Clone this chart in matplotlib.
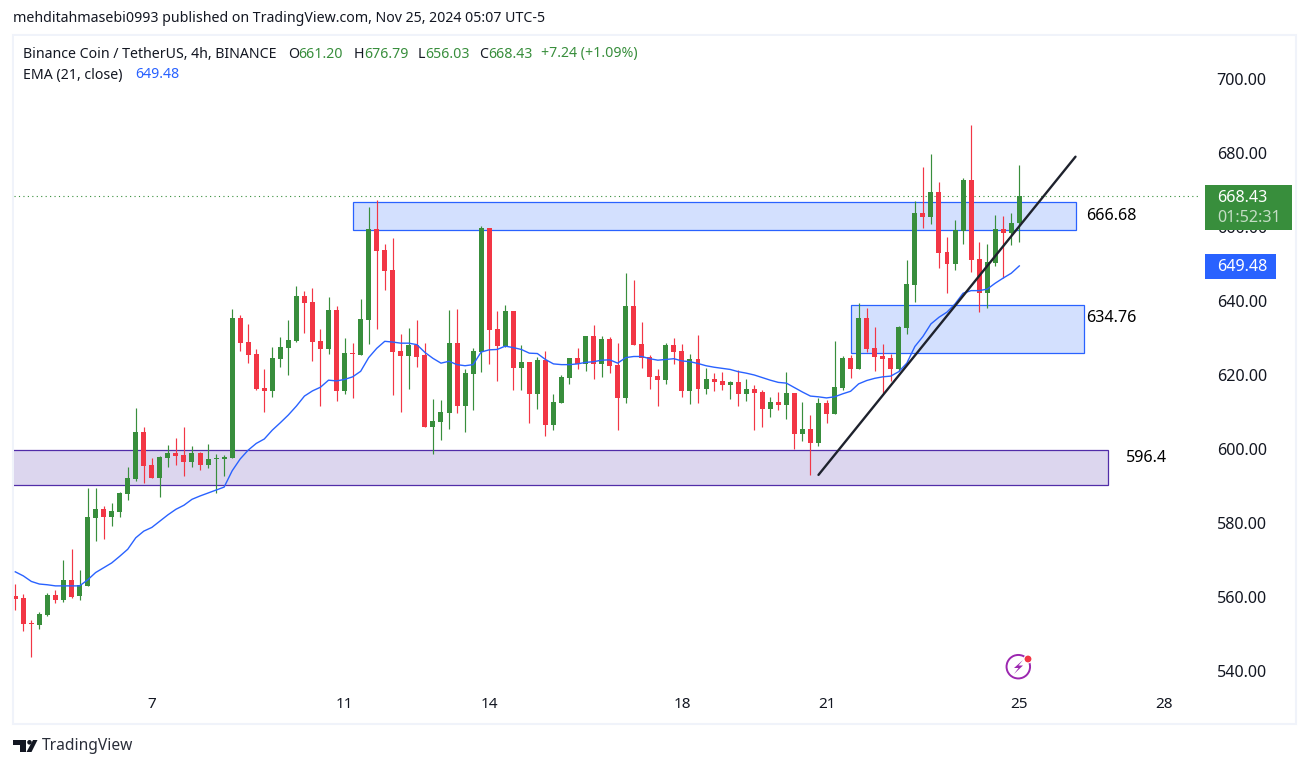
#! /usr/bin/env python
"""BNB/USDT 4h candles with EMA and zones, TradingView style."""

import matplotlib
matplotlib.use('Agg')
import matplotlib.pyplot as plt
from matplotlib.patches import Rectangle, Polygon, Circle, Arc
from matplotlib.transforms import Affine2D

plt.rcParams['font.family'] = ['Noto Sans', 'DejaVu Sans']

GREEN = '#388e3c'
RED = '#f23645'
BLUE = '#2962ff'
PURPLE = '#512da8'
INK = '#131722'

opens = [560.3, 559.7, 553.0, 552.4, 555.1, 560.5, 559.2, 564.6, 560.3, 563.0,
         581.4, 583.8, 581.6, 583.0, 587.8, 591.9, 604.6, 595.7, 592.2, 597.6,
         598.9, 598.4, 596.5, 598.9, 595.7, 597.3, 597.3, 597.6, 635.4, 628.9,
         625.7, 616.5, 615.7, 624.3, 627.3, 629.2, 641.4, 639.7, 629.2, 627.0,
         637.6, 615.7, 625.95, 625.4, 634.9, 659.5, 653.8, 648.4, 626.5, 625.1,
         628.1, 625.4, 605.9, 607.3, 609.7, 628.6, 611.6, 620.3, 626.2, 659.7,
         632.4, 627.8, 637.3, 621.9, 623.5, 614.9, 624.1, 606.5, 612.4, 619.2,
         624.6, 623.0, 630.5, 623.0, 629.7, 622.7, 613.8, 638.6, 628.4, 624.9,
         619.7, 618.6, 628.1, 626.5, 615.7, 624.3, 616.2, 618.9, 618.4, 617.3,
         618.1, 614.9, 616.2, 615.4, 610.8, 612.7, 611.9, 615.1, 604.1, 605.4,
         601.6, 612.4, 609.5, 616.5, 624.6, 621.6, 635.4, 627.3, 625.1, 624.6,
         621.6, 632.7, 644.3, 663.8, 662.7, 669.5, 653.2, 650.0, 658.9, 672.7,
         651.4, 642.2, 650.3, 659.5, 658.4, 661.2]
closes = [559.5, 552.7, 552.8, 555.4, 560.5, 559.2, 564.6, 560.0, 563.2, 581.6,
          583.8, 581.6, 583.2, 588.1, 592.2, 604.6, 595.4, 592.2, 597.8, 598.9,
          598.1, 596.5, 598.9, 595.7, 597.3, 597.5, 597.9, 635.4, 628.7, 625.4,
          616.2, 615.7, 624.6, 627.6, 629.5, 641.4, 639.5, 628.9, 627.0, 637.6,
          615.7, 625.95, 625.7, 635.1, 659.5, 653.5, 648.1, 626.2, 625.1, 628.1,
          624.9, 605.9, 607.6, 610.0, 628.6, 611.6, 620.5, 626.5, 659.7, 632.2,
          627.8, 637.3, 621.9, 623.5, 614.9, 624.1, 606.5, 612.7, 619.5, 624.6,
          623.0, 630.5, 623.0, 629.7, 622.4, 613.8, 638.6, 628.1, 624.6, 619.5,
          618.6, 628.1, 626.2, 615.7, 624.3, 616.2, 618.9, 618.1, 617.3, 618.1,
          614.9, 616.2, 615.1, 610.8, 612.7, 611.9, 615.1, 604.1, 605.4, 601.6,
          612.4, 609.5, 616.8, 624.6, 621.6, 635.4, 627.0, 624.9, 624.3, 621.6,
          633.0, 644.6, 663.8, 662.7, 669.5, 653.0, 650.0, 659.2, 672.7, 651.1,
          642.2, 650.5, 659.5, 658.4, 661.1, 668.43]
highs = [563.5, 560.8, 553.8, 555.95, 561.1, 561.9, 570.0, 573.0, 567.3, 589.5,
         589.5, 584.6, 585.4, 588.4, 595.1, 611.1, 605.95, 597.6, 598.1, 601.1,
         603.0, 606.0, 600.8, 599.2, 601.3, 598.6, 598.4, 637.8, 636.2, 633.8,
         627.0, 621.6, 627.6, 630.3, 634.9, 644.1, 642.7, 643.5, 632.4, 641.1,
         638.6, 630.0, 628.6, 640.5, 665.4, 667.3, 655.4, 657.0, 631.1, 632.7,
         634.9, 628.6, 613.5, 613.2, 637.6, 637.8, 621.6, 627.3, 660.3, 659.7,
         637.3, 638.9, 637.3, 628.1, 623.5, 624.9, 626.5, 614.9, 620.0, 624.6,
         627.3, 630.5, 633.5, 630.5, 630.3, 628.6, 647.6, 645.7, 634.3, 625.4,
         621.6, 628.6, 630.0, 628.4, 625.7, 630.8, 621.9, 620.5, 620.8, 618.4,
         621.4, 618.9, 617.3, 616.0, 614.0, 615.4, 620.8, 615.1, 612.7, 609.2,
         613.8, 613.2, 629.2, 625.1, 625.4, 639.5, 638.1, 633.0, 628.4, 625.6,
         633.3, 651.1, 667.0, 676.2, 679.7, 672.2, 657.3, 661.9, 673.2, 687.6,
         655.9, 655.4, 663.2, 663.0, 663.8, 676.79]
lows = [556.5, 550.8, 543.9, 551.4, 554.9, 558.4, 558.7, 559.7, 559.2, 563.0,
        575.1, 575.7, 579.2, 581.6, 586.2, 591.4, 590.8, 592.2, 587.0, 595.1,
        595.7, 592.7, 595.1, 594.3, 594.9, 588.1, 592.7, 597.6, 626.5, 623.3,
        615.95, 610.0, 614.1, 622.2, 620.0, 628.9, 631.4, 623.8, 611.6, 625.7,
        613.0, 614.9, 613.8, 625.4, 628.4, 632.4, 643.0, 614.6, 610.0, 616.2,
        622.2, 605.9, 598.6, 602.4, 605.4, 609.7, 604.6, 610.5, 620.8, 623.0,
        618.4, 627.6, 615.9, 615.9, 607.0, 610.8, 603.5, 605.1, 612.4, 617.6,
        621.6, 621.1, 618.9, 619.5, 620.5, 605.1, 612.4, 628.1, 621.9, 616.2,
        611.6, 617.6, 623.0, 614.1, 612.2, 612.4, 614.9, 615.7, 616.0, 613.5,
        611.6, 613.0, 605.1, 606.0, 608.6, 610.5, 608.1, 600.0, 602.2, 593.0,
        600.8, 607.0, 609.5, 616.0, 619.2, 621.6, 626.2, 621.1, 615.1, 618.4,
        621.1, 631.1, 639.7, 659.7, 660.8, 648.9, 642.2, 648.4, 655.4, 647.8,
        637.0, 638.1, 649.5, 646.2, 655.1, 656.03]
ema = [566.8, 565.7, 564.2, 563.5, 563.3, 563.0, 563.0, 563.0, 563.0, 564.6,
       566.6, 567.9, 569.2, 571.0, 572.9, 576.0, 577.8, 578.8, 580.5, 582.2,
       583.7, 584.8, 586.4, 587.3, 588.1, 588.9, 589.7, 594.1, 597.3, 599.7,
       601.5, 602.7, 605.1, 607.1, 609.2, 611.6, 614.3, 615.7, 616.7, 618.6,
       618.4, 618.8, 619.5, 621.0, 624.7, 627.2, 629.1, 628.9, 628.6, 628.6,
       628.2, 626.1, 624.5, 623.2, 623.7, 622.8, 622.5, 622.8, 626.2, 626.8,
       626.9, 627.8, 627.4, 626.9, 625.9, 625.8, 624.2, 623.0, 622.8, 622.8,
       623.0, 623.4, 623.6, 624.0, 624.1, 623.2, 624.7, 625.0, 625.0, 624.4,
       624.0, 624.2, 624.4, 623.8, 623.6, 623.1, 622.5, 622.1, 621.8, 621.5,
       620.9, 620.5, 620.0, 619.3, 618.6, 618.0, 617.8, 616.6, 615.4, 614.3,
       614.1, 613.8, 614.1, 614.9, 615.6, 617.6, 618.5, 619.1, 619.5, 619.7,
       620.9, 623.2, 627.7, 630.4, 633.8, 635.6, 637.0, 639.2, 642.1, 642.8,
       642.8, 643.2, 644.8, 646.2, 647.5, 649.48]

day_ticks = [17, 41, 59, 83, 101, 125, 143]
day_labels = ['7', '11', '14', '18', '21', '25', '28']
price_ticks = [540, 560, 580, 600, 620, 640, 660, 680, 700]

# zones: start bar, end bar, low, high
blue_zones = [(42, 132, 659.1, 666.68), (104, 133, 625.9, 638.8)]
purple_zone = (-3, 136, 590.2, 599.6)
trend_bars = [100, 132]
trend_prices = [593.0, 679.0]

fig = plt.figure(figsize=(13.09, 7.68), dpi=100, facecolor='white')
# pixel coordinates, origin top left, for the page furniture
tr = Affine2D().scale(1, -1).translate(0, 768)


def ptext(x, y, s, color=INK, size=10.2, **kw):
    """Text placed in page pixels, vertically centred."""
    fig.text(x, y, s, color=color, fontsize=size, va='center', transform=tr, **kw)


fig.add_artist(Rectangle((13, 34.5), 1283, 689.5, fill=False, ec='#f0f3fa', lw=1.5,
                         transform=tr, zorder=-1))

ax = fig.add_axes([14 / 1309, 1 - 690 / 768, (1200 - 14) / 1309, (690 - 36) / 768])
ax.set_xlim(-0.16, 147.5)
ax.set_ylim(534.86, 711.62)
for side in ax.spines.values():
    side.set_visible(False)
ax.yaxis.tick_right()
ax.set_yticks(price_ticks, ['%.2f' % p for p in price_ticks])
ax.set_xticks(day_ticks, day_labels)
ax.tick_params(axis='y', length=0, pad=12, labelsize=11.6, labelcolor=INK)
ax.tick_params(axis='x', length=0, pad=5, labelsize=11, labelcolor=INK)

for start, end, low, high in blue_zones:
    ax.add_patch(Rectangle((start, low), end - start, high - low, fc='#d3e0fe', ec=BLUE,
                           lw=0.9, zorder=1))
ax.add_patch(Rectangle((purple_zone[0], purple_zone[2]), purple_zone[1] - purple_zone[0],
                       purple_zone[3] - purple_zone[2], fc='#dcd6ee', ec=PURPLE, lw=0.9,
                       zorder=1))

ax.axhline(closes[-1], color=GREEN, ls=(0, (1, 3)), lw=0.8, zorder=1.5)

xs = list(range(len(opens)))
colors = [GREEN if c >= o else RED for o, c in zip(opens, closes)]
ax.vlines(xs, lows, highs, colors=colors, lw=0.85, zorder=2)
ax.bar(xs, [max(abs(c - o), 0.3) for o, c in zip(opens, closes)],
       bottom=[min(o, c) for o, c in zip(opens, closes)],
       width=0.62, color=colors, lw=0, zorder=3)

ax.plot(xs, ema, color=BLUE, lw=1.0, zorder=4)
ax.plot(trend_bars, trend_prices, color='#1e222d', lw=1.7, zorder=5, solid_capstyle='round')

# right hand labels on the zones
ptext(1086, 216, '666.68', color='black', size=11.6)
ptext(1086, 318, '634.76', color='black', size=11.6)
ptext(1126, 458, '596.4', color='black', size=11.6)

# price scale tags
fig.add_artist(Rectangle((1205, 185), 87, 45, fc=GREEN, ec='none', transform=tr, zorder=5))
fig.add_artist(Rectangle((1205, 254), 71, 25, fc=BLUE, ec='none', transform=tr, zorder=5))
fig.text(1217, 198, '668.43', color='white', fontsize=11.6, va='center', transform=tr, zorder=6)
fig.text(1217, 218, '01:52:31', color='#c4ddc5', fontsize=11.6, va='center', transform=tr, zorder=6)
fig.text(1217, 267, '649.48', color='white', fontsize=11.6, va='center', transform=tr, zorder=6)

# header and legend
ptext(13, 19, 'mehditahmasebi0993 published on TradingView.com, Nov 25, 2024 05:07 UTC-5')
ptext(23, 54, 'Binance Coin / TetherUS, 4h, BINANCE')
ptext(23, 75, 'EMA (21, close)')
ptext(135, 75, '649.48', color=BLUE)
for x, s, col in [(288, 'O', INK), (298, '661.20', GREEN), (354, 'H', INK), (364, '676.79', GREEN),
                  (418, 'L', INK), (425, '656.03', GREEN), (479, 'C', INK), (488, '668.43', GREEN),
                  (541, '+7.24 (+1.09%)', GREEN)]:
    ptext(x, 54, s, color=col)

# bolt badge
fig.add_artist(Arc((1018.3, 666.7), 23.5, 23.5, theta1=0, theta2=360, ec='#9c27b0', lw=1.4,
                   transform=tr, zorder=5))
fig.add_artist(Polygon([(1023, 660), (1014, 668), (1018.5, 668), (1014, 674), (1023, 665.5),
                        (1018.5, 665.5)], fc='#9c27b0', ec='none', transform=tr, zorder=5))
fig.add_artist(Circle((1028, 659), 4.5, fc='white', ec='none', transform=tr, zorder=6))
fig.add_artist(Circle((1028, 659), 3.4, fc=RED, ec='none', transform=tr, zorder=7))

# TradingView mark
logo = '#131722'
fig.add_artist(Polygon([(13, 740), (26, 740), (26, 752), (20, 752), (20, 744.5), (13, 744.5)],
                       fc=logo, ec='none', transform=tr))
fig.add_artist(Circle((29.5, 742.3), 2.3, fc=logo, ec='none', transform=tr))
fig.add_artist(Polygon([(33, 740), (37.5, 740), (31.5, 752), (26.5, 752)], fc=logo, ec='none',
                       transform=tr))
ptext(42, 746, 'TradingView', color='#2a2e39', size=11.2)

fig.savefig('out.png', dpi=100, facecolor='white')
